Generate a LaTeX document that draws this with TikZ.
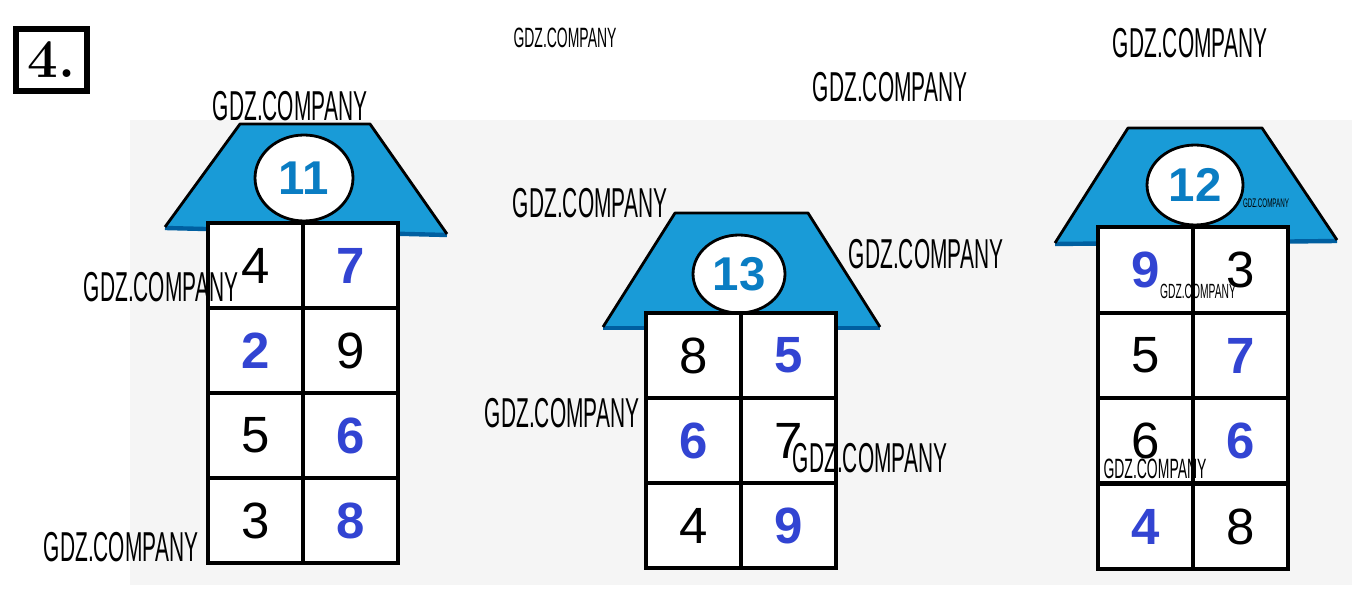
\documentclass[tikz,border=0pt]{standalone}
\usepackage{fontspec}
\setmainfont{Liberation Sans}
\newfontfamily\taskfont{Latin Modern Roman}
\newfontfamily\wmfont[FakeStretch=0.5]{Liberation Sans}
\usetikzlibrary{shapes.geometric, positioning}

\definecolor{roofblue}{RGB}{25,155,215}
\definecolor{roofdark}{RGB}{0,95,160}
\definecolor{tagblue}{RGB}{10,125,195}
\definecolor{digblue}{RGB}{50,68,210}
\definecolor{paper}{RGB}{245,245,245}

\begin{document}
\begin{tikzpicture}[
    x=0.02cm, y=-0.02cm,
    cella/.style={rectangle, draw=black, line width=2pt, fill=white,
                  minimum width=1.9cm, minimum height=1.7cm, inner sep=0pt},
    cellb/.style={cella, minimum height=1.7cm},
    cellc/.style={cella, minimum height=1.71cm},
    blk/.style={font=\fontsize{29}{29}\selectfont, text=black},
    blu/.style={font=\fontsize{29}{29}\selectfont\bfseries, text=digblue},
    tag/.style={ellipse, draw=black, line width=1.6pt, fill=white, inner sep=0pt,
                font=\fontsize{27}{27}\selectfont\bfseries, text=tagblue,
                minimum width=1.94cm, minimum height=1.54cm},
    roof/.style={fill=roofblue},
    roofline/.style={draw=black, line width=1.6pt, line join=round},
    eave/.style={draw=roofdark, line width=2.5pt},
    wm/.style={font=\wmfont\fontsize{23.8}{23.8}\selectfont, text=black, inner sep=0pt},
  ]
  \useasboundingbox (0,0) rectangle (1371,590);
  \fill[paper] (130,120) rectangle (1352,585);

  % task number
  \node[draw=black, line width=3pt, minimum width=1.42cm, minimum height=1.24cm,
        font=\taskfont\fontsize{31}{31}\selectfont\bfseries] (task) at (51.5,60) {4.};

  % house 11
  \fill[roof] (240,124) -- (370,124) -- (447,234) -- (165,227) -- cycle;
  \draw[eave] (165,228) -- (447,235);
  \draw[roofline] (165,227) -- (240,124) -- (370,124) -- (447,234);
  \node[tag, minimum width=1.96cm, minimum height=1.72cm] (t11) at (304,178) {11};
  \foreach \r/\y in {1/265.5, 2/350.5, 3/435.5, 4/520.5}{
    \node[cella] (a\r1) at (255.5,\y) {};
    \node[cella] (a\r2) at (350.5,\y) {};
  }
  \node[blk] at (a11) {4};  \node[blu] at (a12) {7};
  \node[blu] at (a21) {2};  \node[blk] at (a22) {9};
  \node[blk] at (a31) {5};  \node[blu] at (a32) {6};
  \node[blk] at (a41) {3};  \node[blu] at (a42) {8};

  % house 13
  \fill[roof] (675,213) -- (808,213) -- (880,327) -- (603,327) -- cycle;
  \draw[eave] (603,328) -- (880,328);
  \draw[roofline] (603,327) -- (675,213) -- (808,213) -- (880,327);
  \node[tag, minimum width=1.84cm, minimum height=1.56cm] (t13) at (739,274) {13};
  \foreach \r/\y in {1/355.5, 2/440.5, 3/525.5}{
    \node[cellb] (b\r1) at (693.5,\y) {};
    \node[cellb] (b\r2) at (788.5,\y) {};
  }
  \node[blk] at (b11) {8};  \node[blu] at (b12) {5};
  \node[blu] at (b21) {6};  \node[blk] at (b22) {7};
  \node[blk] at (b31) {4};  \node[blu] at (b32) {9};

  % house 12
  \fill[roof] (1128,128) -- (1262,128) -- (1337,240) -- (1055,243) -- cycle;
  \draw[eave] (1055,244) -- (1337,241);
  \draw[roofline] (1055,243) -- (1128,128) -- (1262,128) -- (1337,240);
  \node[tag, minimum width=1.92cm, minimum height=1.6cm] (t12) at (1195,185) {12};
  \foreach \r/\y in {1/270, 2/355.5, 3/440.5, 4/526.5}{
    \node[cellc] (c\r1) at (1145.5,\y) {};
    \node[cellc] (c\r2) at (1240.5,\y) {};
  }
  \node[blu] at (c11) {9};  \node[blk] at (c12) {3};
  \node[blk] at (c21) {5};  \node[blu] at (c22) {7};
  \node[blk] at (c31) {6};  \node[blu] at (c32) {6};
  \node[blu] at (c41) {4};  \node[blk] at (c42) {8};

  % watermarks
  \node[wm, font=\wmfont\fontsize{15.9}{15.9}\selectfont] (w1) at (565,38) {GDZ.COMPANY};
  \node[wm] (w2) at (1190,43) {GDZ.COMPANY};
  \node[wm] (w3) at (890,87) {GDZ.COMPANY};
  \node[wm] (w4) at (290,106) {GDZ.COMPANY};
  \node[wm] (w5) at (590,203) {GDZ.COMPANY};
  \node[wm] (w6) at (926,254) {GDZ.COMPANY};
  \node[wm] (w7) at (161,287) {GDZ.COMPANY};
  \node[wm] (w8) at (562,413) {GDZ.COMPANY};
  \node[wm] (w9) at (870,458) {GDZ.COMPANY};
  \node[wm] (w10) at (121,547) {GDZ.COMPANY};
  \node[wm, font=\wmfont\fontsize{11.7}{11.7}\selectfont] (w11) at (1198,291) {GDZ.COMPANY};
  \node[wm, font=\wmfont\fontsize{15.9}{15.9}\selectfont] (w12) at (1155,469) {GDZ.COMPANY};
  \node[wm, font=\wmfont\fontsize{7.1}{7.1}\selectfont] (w13) at (1266,203) {GDZ.COMPANY};
\end{tikzpicture}
\end{document}
